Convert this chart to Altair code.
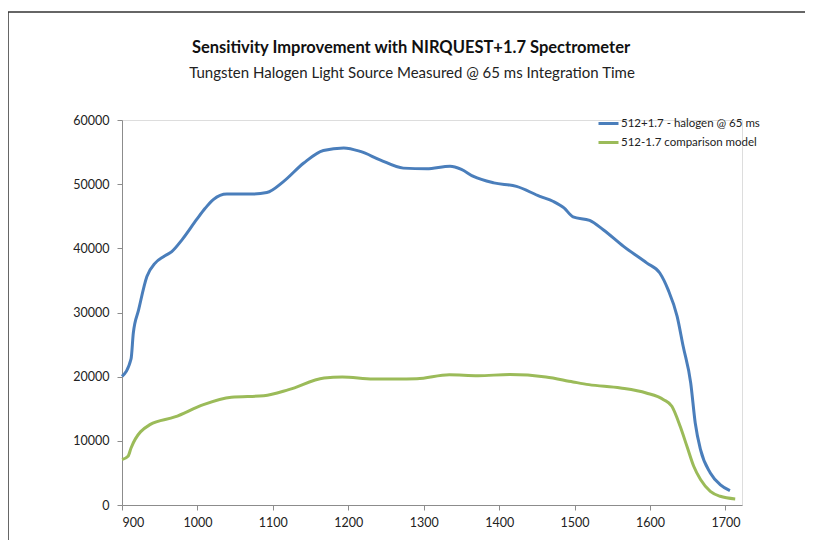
import altair as alt
import pandas as pd

# Series 1: 512+1.7 - halogen @ 65 ms
wl_blue = [900, 912, 915, 922, 933, 944, 955, 966, 980, 999, 1010, 1021, 1039, 1070, 1092,
           1114, 1141, 1167, 1194, 1216, 1242, 1273, 1304, 1335, 1350, 1366, 1393, 1423,
           1454, 1472, 1486, 1498, 1520, 1538, 1565, 1596, 1613, 1624, 1636, 1644, 1654,
           1660, 1667, 1680, 1693, 1706]
val_blue = [20050, 22760, 26800, 30400, 35600, 37700, 38700, 39500, 41400, 44500, 46200,
            47600, 48450, 48450, 48700, 50400, 53300, 55250, 55650, 55100, 53800, 52500,
            52400, 52800, 52300, 51200, 50200, 49650, 48100, 47300, 46300, 44900, 44350,
            42900, 40300, 37700, 36150, 33560, 29400, 24730, 19020, 12790, 8630, 5000,
            3180, 2240]

# Series 2: 512-1.7 comparison model
wl_green = [900, 908, 912, 937, 970, 1008, 1045, 1088, 1121, 1168, 1192, 1233, 1263, 1291,
            1334, 1372, 1414, 1462, 1498, 1519, 1561, 1595, 1618, 1629, 1640, 1649, 1658,
            1667, 1680, 1693, 1713]
val_green = [7070, 7590, 8890, 12530, 13720, 15640, 16780, 17040, 17980, 19800, 19950,
             19650, 19640, 19690, 20310, 20160, 20320, 19950, 19180, 18760, 18240, 17460,
             16420, 15380, 12260, 9150, 6030, 3960, 2130, 1360, 950]

series_names = ["512+1.7 - halogen @ 65 ms", "512-1.7 comparison model"]
series_colors = ["#4a7ebb", "#9bbb59"]
x_ticks = [900, 1000, 1100, 1200, 1300, 1400, 1500, 1600, 1700]
y_ticks = [0, 10000, 20000, 30000, 40000, 50000, 60000]

title_text = "Sensitivity Improvement with NIRQUEST+1.7 Spectrometer"
subtitle_text = "Tungsten Halogen Light Source Measured @ 65 ms Integration Time"

df = pd.concat([
    pd.DataFrame({"wl": wl_blue, "v": val_blue, "s": series_names[0], "o": 0}),
    pd.DataFrame({"wl": wl_green, "v": val_green, "s": series_names[1], "o": 1}),
])
one = pd.DataFrame({"k": [0]})

FONT = "Lato"

lines = alt.Chart(df).mark_line(strokeWidth=3, interpolate="monotone", clip=False).encode(
    x=alt.X("wl:Q", scale=alt.Scale(domain=[900, 1722], nice=False, zero=False),
            axis=alt.Axis(values=x_ticks, title=None, grid=False, format="d",
                          domainColor="#8c8c8c", tickColor="#8c8c8c", tickSize=5,
                          labelPadding=6, labelFontSize=12.5, labelColor="#222",
                          labelFont=FONT)),
    y=alt.Y("v:Q", scale=alt.Scale(domain=[0, 60000], nice=False),
            axis=alt.Axis(values=y_ticks, title=None, grid=False, format="d",
                          domainColor="#8c8c8c", tickColor="#8c8c8c", tickSize=5,
                          labelPadding=8, labelFontSize=12.5, labelColor="#222",
                          labelFont=FONT)),
    color=alt.Color("s:N", scale=alt.Scale(domain=series_names, range=series_colors),
                    legend=alt.Legend(title=None, orient="none", legendX=475, legendY=-8,
                                      symbolType="stroke", symbolStrokeWidth=3,
                                      symbolSize=400, labelOffset=1, labelFontSize=11.5,
                                      labelFont=FONT, labelColor="#222", rowPadding=1,
                                      padding=0, labelLimit=300)),
    order="o:O",
    detail="s:N",
)

title_mark = alt.Chart(one).mark_text(
    font=FONT, fontSize=16.5, fontWeight="bold", color="#111", align="center",
    baseline="middle").encode(x=alt.value(289), y=alt.value(-72), text=alt.value(title_text))
subtitle_mark = alt.Chart(one).mark_text(
    font=FONT, fontSize=15, color="#222", align="center",
    baseline="middle").encode(x=alt.value(290), y=alt.value(-47), text=alt.value(subtitle_text))

border_top = alt.Chart(one).mark_rule(color="#333", strokeWidth=1.5).encode(
    x=alt.value(-114), x2=alt.value(684), y=alt.value(-108))
border_left = alt.Chart(one).mark_rule(color="#333", strokeWidth=1.5).encode(
    x=alt.value(-114), y=alt.value(-108), y2=alt.value(430))

chart = alt.layer(lines, title_mark, subtitle_mark, border_top, border_left).properties(
    width=620, height=385,
    autosize=alt.AutoSizeParams(type="none"),
    padding={"left": 114, "top": 112, "right": 63, "bottom": 35},
).configure_view(stroke=None).configure(background="white")

chart.save("out.html", embed_options={"renderer": "svg", "actions": False})
